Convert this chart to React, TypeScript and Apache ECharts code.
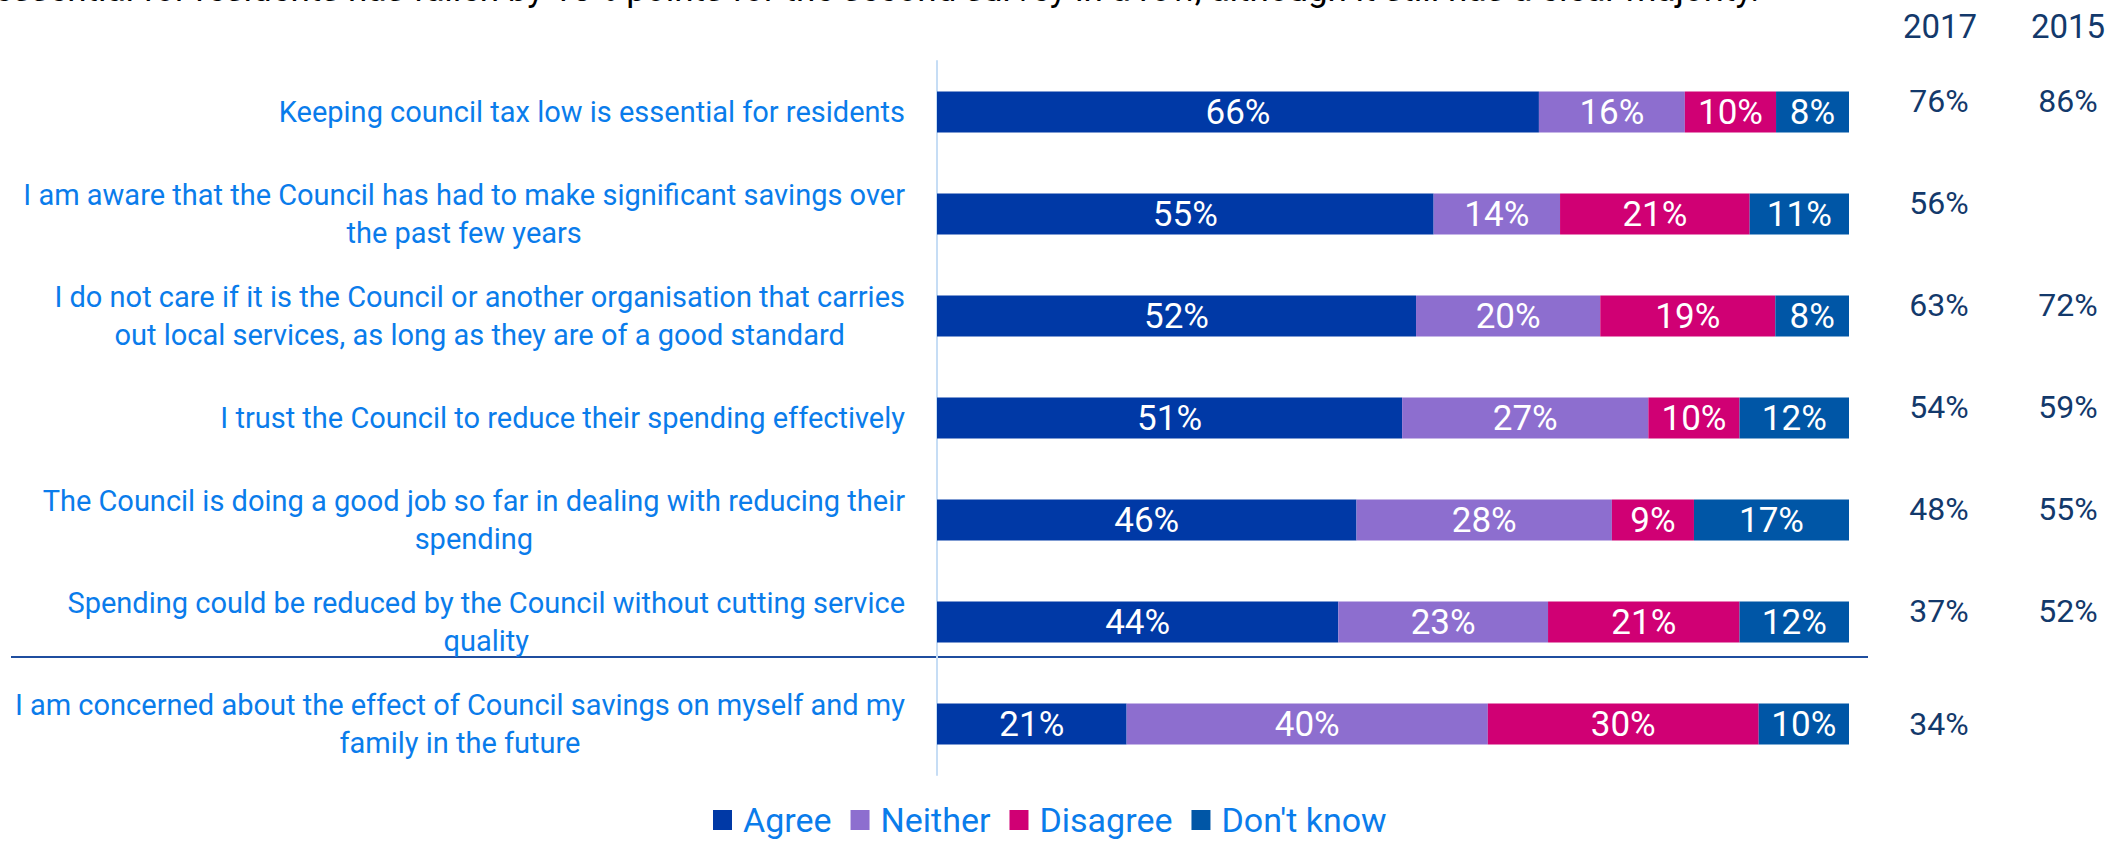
import React, { useEffect, useRef } from "react";
import * as echarts from "echarts";

const categories = [
  "Keeping council tax low is essential for residents",
  "I am aware that the Council has had to make significant savings over\nthe past few years",
  "I do not care if it is the Council or another organisation that carries\nout local services, as long as they are of a good standard",
  "I trust the Council to reduce their spending effectively",
  "The Council is doing a good job so far in dealing with reducing their\nspending",
  "Spending could be reduced by the Council without cutting service\nquality",
  "I am concerned about the effect of Council savings on myself and my\nfamily in the future",
];

const seriesNames = ["Agree", "Neither", "Disagree", "Don't know"];
const agree = [66, 55, 52, 51, 46, 44, 21];
const neither = [16, 14, 20, 27, 28, 23, 40];
const disagree = [10, 21, 19, 10, 9, 21, 30];
const dontKnow = [8, 11, 8, 12, 17, 12, 10];

const headers = ["2017", "2015"];
const agree2017 = ["76%", "56%", "63%", "54%", "48%", "37%", "34%"];
const agree2015 = ["86%", "", "72%", "59%", "55%", "52%", ""];

const topText =
  "essential for residents has fallen by 10% points for the second survey in a row, although it still has a clear majority.";

const colors = ["#0039A6", "#8D6ECF", "#D00074", "#0056A6"];
const FONT = "Roboto, 'Noto Sans', sans-serif";
const LABEL_BLUE = "#0A7CEB";
const NAVY = "#13396B";

export default function App() {
  const ref = useRef<HTMLDivElement>(null);

  useEffect(() => {
    if (!ref.current) return;
    const chart = echarts.init(ref.current, undefined, { renderer: "svg" });
    const all = [agree, neither, disagree, dontKnow];
    const totals = categories.map((_, i) => all.reduce((s, arr) => s + arr[i], 0));

    const valueAxis = (margin: number, values: string[]) => ({
      type: "category",
      data: categories,
      inverse: true,
      position: "right",
      axisLine: { show: false },
      axisTick: { show: false },
      splitLine: { show: false },
      axisLabel: {
        margin,
        align: "center",
        formatter: (_v: string, i: number) =>
          values[i] ? (i < 6 ? `{u|${values[i]}}` : `{n|${values[i]}}`) : "",
        rich: {
          u: { fontSize: 32, fontFamily: FONT, color: NAVY, padding: [0, 0, 22, 0] },
          n: { fontSize: 32, fontFamily: FONT, color: NAVY },
        },
      },
    });

    chart.setOption({
      animation: false,
      color: colors,
      grid: {
        left: 937,
        right: 259,
        top: 61,
        bottom: 68,
        containLabel: false,
        outerBoundsMode: "none",
      },
      xAxis: { type: "value", min: 0, max: 100, show: false },
      yAxis: [
        {
          type: "category",
          data: categories,
          inverse: true,
          axisLine: { show: true, lineStyle: { color: "#C6DDF5", width: 2 } },
          axisTick: { show: false },
          axisLabel: {
            margin: 32,
            align: "right",
            formatter: (v: string) =>
              v
                .split("\n")
                .map((l) => `{c|${l}}`)
                .join("\n"),
            rich: {
              c: {
                align: "center",
                color: LABEL_BLUE,
                fontSize: 29,
                lineHeight: 38,
                fontFamily: FONT,
              },
            },
          },
        },
        valueAxis(90, agree2017),
        valueAxis(219, agree2015),
      ],
      legend: {
        data: seriesNames,
        left: 708,
        top: 798,
        icon: "rect",
        itemWidth: 19,
        itemHeight: 20,
        itemGap: 19,
        textStyle: { fontSize: 34, color: LABEL_BLUE, fontFamily: FONT, padding: [0, 0, 0, 6] },
      },
      series: all.map((arr, si) => ({
        name: seriesNames[si],
        type: "bar",
        stack: "total",
        barWidth: 41,
        yAxisIndex: 0,
        data: arr.map((v, i) => (v / totals[i]) * 100),
        label: {
          show: true,
          position: "inside",
          color: "#FFFFFF",
          fontSize: 35,
          fontFamily: FONT,
          formatter: (p: any) => `${arr[p.dataIndex]}%`,
        },
        itemStyle: { color: colors[si] },
      })),
      graphic: [
        {
          type: "text",
          x: -6,
          y: 7,
          style: {
            text: topText,
            fontSize: 35,
            fontFamily: FONT,
            fill: "#000000",
            align: "left",
            verticalAlign: "bottom",
          },
        },
        {
          type: "text",
          x: 1940,
          y: 26,
          style: { text: headers[0], fontSize: 33, fontFamily: FONT, fill: NAVY, align: "center", verticalAlign: "middle" },
        },
        {
          type: "text",
          x: 2068,
          y: 26,
          style: { text: headers[1], fontSize: 33, fontFamily: FONT, fill: NAVY, align: "center", verticalAlign: "middle" },
        },
        {
          type: "line",
          shape: { x1: 11, y1: 657, x2: 1868, y2: 657 },
          style: { stroke: "#1F4E9F", lineWidth: 2 },
        },
      ],
    });
    return () => chart.dispose();
  }, []);

  return (
    <div
      ref={ref}
      style={{ position: "fixed", left: 0, top: 0, width: 2108, height: 843, background: "#FFFFFF" }}
    />
  );
}
